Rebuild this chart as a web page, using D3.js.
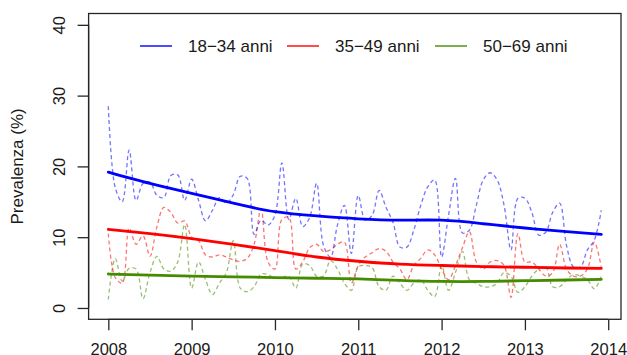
<!DOCTYPE html>
<html>
<head>
<meta charset="utf-8">
<script src="https://cdn.jsdelivr.net/npm/d3@7"></script>
<style>
  html, body { margin: 0; padding: 0; background: #fff; }
  svg { display: block; font-family: "Liberation Sans", Arial, sans-serif; }
</style>
</head>
<body>
<svg id="chart" width="627" height="355"></svg>
<script>
// ---- data ----
const seriesNames = ["18\u221234 anni", "35\u221249 anni", "50\u201369 anni".replace("\u2013", "\u2212")];
const seriesColors = ["#0000FF", "#FF0000", "#458B00"];

// monthly observations Jan 2008 .. Dec 2013
const startYear = 2008;
const monthsCount = 72;
const young = [28.5,17,15,22.3,15.2,17.6,17.8,15.9,15.6,18.7,18.8,15.2,
               18.2,15.2,12.3,13.8,15.6,14.8,16,18.6,18.3,10.4,12.4,11.7,
               13.1,20.5,12.5,15.5,11.5,12.8,17.6,8.8,7.2,11.7,14.5,7.7,
               15.9,12.4,13.1,16.6,14.2,12.1,8.6,8.6,11,14.5,17.1,18.1,
               7.2,13.1,18.3,10.6,11,14.5,18.1,19.1,18.1,14.5,8.2,15.5,
               15.5,13.5,10.3,10.7,13.5,14.8,8.8,5.8,5.8,8.2,9.6,13.8];
const middle = [10.5,4.3,3.5,11.3,9,10.2,7.3,11.5,14.2,13.5,12,12.3,
                10,9.5,7.5,7.2,7.5,7.2,6.8,6.6,7,9,14,6.5,
                5.5,12.5,12.8,5.5,6.5,8.5,9,8,8.2,9,9.3,3.5,
                6,7.2,7.8,8.4,8,6.5,5.5,4,6,7,8.2,7.5,
                5.5,4,6,8.5,10.8,6.5,5.5,6.5,6.7,6,1.5,10.5,
                6.5,6.5,5.5,4.5,5,9,5.5,4.5,4.5,5.5,9.3,5.8];
const senior = [1.2,7,3.8,5.6,5.5,1.3,5,7.3,5.5,5.2,6.5,11.8,
                2.8,6.5,4,1.9,3.5,5,9.5,2.8,2.3,3,4.8,4.7,
                4.2,4.3,4.5,2.8,6.2,6,4.5,4.5,6.7,5.5,3.5,2.5,
                5.8,6,5.7,3,2.5,4.5,3.5,2.5,3.5,4,2.5,1.6,
                6,2.5,5,8,4,3.5,3,3,3.5,5,4.5,2.2,
                3,4.5,5.5,5.8,3,3,4,4.7,4.5,4,2.7,4.5];

// smoothed trends at half-year knots
const trendYears = [2008,2008.5,2009,2009.5,2010,2010.5,2011,2011.5,2012,2012.5,2013,2013.5,2013.917];
const youngTrend  = [19.2,17.6,16.2,14.8,13.6,13.0,12.6,12.4,12.4,11.9,11.3,10.8,10.4];
const middleTrend = [11.1,10.5,9.8,9.0,8.1,7.2,6.6,6.2,6.0,5.85,5.75,5.65,5.6];
const seniorTrend = [4.8,4.65,4.5,4.4,4.3,4.2,4.1,3.9,3.75,3.75,3.85,3.95,4.05];

const xTicks = [2008,2009,2010,2011,2012,2013,2014];
const yTicks = [0,10,20,30,40];
const yLabel = "Prevalenza (%)";

// ---- layout ----
const svg = d3.select("#chart");
const box = {left: 88.6, right: 621, top: 13.5, bottom: 319.3};
const months = d3.range(monthsCount).map(i => startYear + i / 12);
const xMin = months[0], xMax = months[months.length - 1];
const xPad = (xMax - xMin) * 0.04;
const x = d3.scaleLinear().domain([xMin - xPad, xMax + xPad]).range([box.left, box.right]);
const y = d3.scaleLinear().domain([-1.6, 41.6]).range([box.bottom, box.top]);

const obs = [young, middle, senior];
const trends = [youngTrend, middleTrend, seniorTrend];

// dashed observed lines
const dashLine = d3.line().x(d => x(d[0])).y(d => y(d[1])).curve(d3.curveCatmullRom.alpha(0.5));
const order = [2, 1, 0];
order.forEach(k => {
  svg.append("path")
    .attr("d", dashLine(months.map((m, i) => [m, obs[k][i]])))
    .attr("fill", "none")
    .attr("stroke", seriesColors[k])
    .attr("stroke-opacity", 0.55)
    .attr("stroke-width", 1.3)
    .attr("stroke-dasharray", "4,3");
});

// trend lines
const trendLine = d3.line().x(d => x(d[0])).y(d => y(d[1])).curve(d3.curveNatural);
order.forEach(k => {
  svg.append("path")
    .attr("d", trendLine(trendYears.map((t, i) => [t, trends[k][i]])))
    .attr("fill", "none")
    .attr("stroke", seriesColors[k])
    .attr("stroke-width", 2.8)
    .attr("stroke-linecap", "round");
});

// box
svg.append("rect")
  .attr("x", box.left).attr("y", box.top)
  .attr("width", box.right - box.left).attr("height", box.bottom - box.top)
  .attr("fill", "none").attr("stroke", "#262626").attr("stroke-width", 1.3);

// x axis
const xAxis = svg.append("g").attr("transform", `translate(0,${box.bottom})`)
  .call(d3.axisBottom(x).tickValues(xTicks).tickFormat(d3.format("d")).tickSize(11).tickSizeOuter(0));
xAxis.select(".domain").attr("d", `M${x(xTicks[0])},0H${x(xTicks[xTicks.length-1])}`)
  .attr("stroke", "#262626").attr("stroke-width", 1.3);
xAxis.selectAll(".tick line").attr("stroke", "#262626").attr("stroke-width", 1.3);
xAxis.selectAll(".tick text").attr("y", 36).attr("dy", 0)
  .attr("font-size", 16.5).attr("fill", "#1a1a1a").attr("font-family", "Liberation Sans, Arial, sans-serif");

// y axis
const yAxis = svg.append("g").attr("transform", `translate(${box.left},0)`)
  .call(d3.axisLeft(y).tickValues(yTicks).tickFormat(d3.format("d")).tickSize(11).tickSizeOuter(0));
yAxis.select(".domain").attr("d", `M0,${y(yTicks[0])}V${y(yTicks[yTicks.length-1])}`)
  .attr("stroke", "#262626").attr("stroke-width", 1.3);
yAxis.selectAll(".tick line").attr("stroke", "#262626").attr("stroke-width", 1.3);
yAxis.selectAll(".tick text")
  .attr("x", null).attr("dy", null)
  .attr("text-anchor", "middle")
  .attr("transform", "translate(-23.5,0) rotate(-90)")
  .attr("font-size", 16.5).attr("fill", "#1a1a1a").attr("font-family", "Liberation Sans, Arial, sans-serif");

// y label
svg.append("text")
  .attr("transform", `translate(23,${(box.top + box.bottom) / 2}) rotate(-90)`)
  .attr("text-anchor", "middle")
  .attr("font-size", 17).attr("fill", "#1a1a1a")
  .text(yLabel);

// legend
const legendY = 46;
const legendStarts = [140, 287, 435];
seriesNames.forEach((name, k) => {
  const lx = legendStarts[k];
  svg.append("line")
    .attr("x1", lx).attr("x2", lx + 32)
    .attr("y1", legendY).attr("y2", legendY)
    .attr("stroke", seriesColors[k]).attr("stroke-width", 1.4);
  svg.append("text")
    .attr("x", lx + 48).attr("y", legendY + 6)
    .attr("font-size", 17).attr("fill", "#1a1a1a")
    .text(name);
});
</script>
</body>
</html>
